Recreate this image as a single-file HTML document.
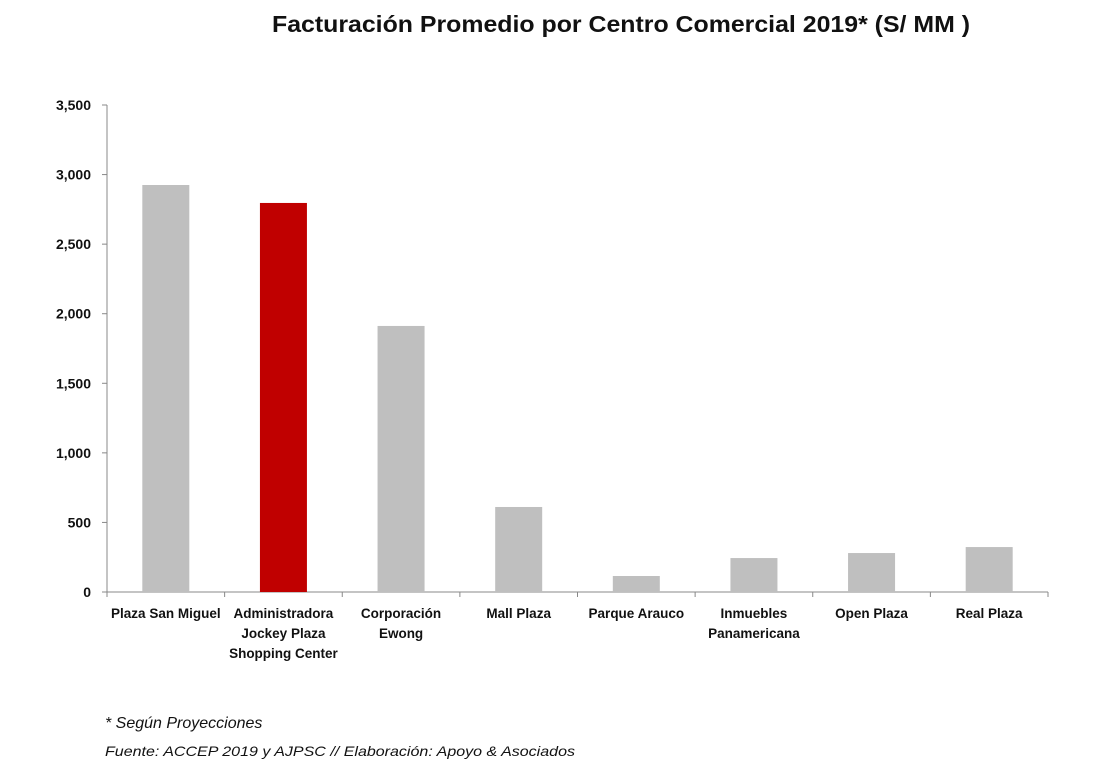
<!DOCTYPE html>
<html><head><meta charset="utf-8"><style>
body{margin:0;background:#fff;width:1106px;height:774px;overflow:hidden;font-family:"Liberation Sans",sans-serif}
</style></head><body>
<svg width="1106" height="774" id="c">
<text x="272" y="32" textLength="698" lengthAdjust="spacingAndGlyphs" font-size="23" font-weight="bold" fill="#111">Facturación Promedio por Centro Comercial 2019* (S/ MM )</text>
<text x="105" y="728" font-size="16" font-style="italic" fill="#111">* Según Proyecciones</text>
<text x="105" y="756" textLength="470" lengthAdjust="spacingAndGlyphs" font-size="14" font-style="italic" fill="#111">Fuente: ACCEP 2019  y AJPSC // Elaboración: Apoyo &amp; Asociados</text>
</svg>
<script>
const categories=[["Plaza San Miguel"],["Administradora","Jockey Plaza","Shopping Center"],["Corporación","Ewong"],["Mall Plaza"],["Parque Arauco"],["Inmuebles","Panamericana"],["Open Plaza"],["Real Plaza"]];
const values=[2925,2796,1912,611,115,244,280,323];
const highlight=[false,true,false,false,false,false,false,false];
const yTicks=[0,500,1000,1500,2000,2500,3000,3500];
const yTickLabels=["0","500","1,000","1,500","2,000","2,500","3,000","3,500"];
const svg=document.getElementById('c');const NS='http://www.w3.org/2000/svg';
const x0=107,x1=1048,y0=592,yTop=105,yMax=3500;
const y=v=>y0-(v/yMax)*(y0-yTop);
const band=(x1-x0)/categories.length;
const xc=i=>x0+band*(i+0.5);
function mk(t,a){const e=document.createElementNS(NS,t);for(const k in a)e.setAttribute(k,a[k]);svg.appendChild(e);return e;}
const ax=mk('line',{x1:x0,y1:yTop,x2:x0,y2:y0,stroke:'#888'});


const bx=mk('line',{x1:x0,y1:y0,x2:x1,y2:y0,stroke:'#888'});


yTicks.forEach((v,i)=>{
 const tk=mk('line',{x1:x0-5,y1:y(v),x2:x0,y2:y(v),stroke:'#888'});
 
 
 const t=mk('text',{x:x0-16,y:y(v)+5,'text-anchor':'end','font-size':14,'font-weight':'bold',fill:'#111'});
 t.textContent=yTickLabels[i];
 
 
});
for(let i=0;i<=categories.length;i++){
 const tk=mk('line',{x1:x0+band*i,y1:y0,x2:x0+band*i,y2:y0+5,stroke:'#888'});
 
 
}
values.forEach((v,i)=>{
 const b=mk('rect',{x:xc(i)-23.5,y:y(v),width:47,height:y0-y(v),fill:highlight[i]?'#c00000':'#bfbfbf'});
 
 
 categories[i].forEach((ln,j)=>{
  const t=mk('text',{x:xc(i),y:618+j*20,'text-anchor':'middle','font-size':13.5,'font-weight':'bold',fill:'#111'});
  t.textContent=ln;
  
  
 });
});
</script>
</body></html>
